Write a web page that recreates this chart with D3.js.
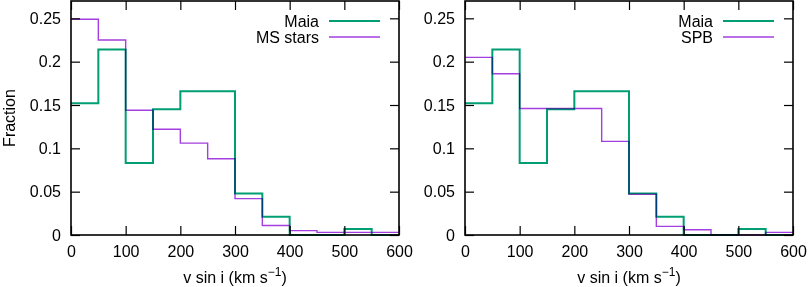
<!DOCTYPE html>
<html>
<head>
<meta charset="utf-8">
<script src="https://cdn.jsdelivr.net/npm/d3@7"></script>
<style>
  body { margin: 0; background: #fff; }
  svg { display: block; font-family: "Liberation Sans", Arial, sans-serif; }
</style>
</head>
<body>
<svg width="809" height="287"></svg>
<script>
// bin edges of the v sin i histograms (km/s)
var binStart = [0, 50, 100, 150, 200, 250, 300, 350, 400, 450, 500, 550];
var binEnd = 600;

var maiaFrac = [0.152, 0.214, 0.083, 0.145, 0.166, 0.166, 0.048, 0.021, 0, 0, 0.007, 0];
var msFrac   = [0.249, 0.225, 0.144, 0.122, 0.106, 0.088, 0.042, 0.011, 0.005, 0.003, 0.003, 0.003];
var spbFrac  = [0.205, 0.186, 0.146, 0.146, 0.146, 0.108, 0.047, 0.010, 0.006, 0, 0, 0.003];

var xTicks = [0, 100, 200, 300, 400, 500, 600];
var yTicks = [0, 0.05, 0.1, 0.15, 0.2, 0.25];
var yTickLabels = ['0', '0.05', '0.1', '0.15', '0.2', '0.25'];

var green = '#009e73';
var purple = '#a33ee0';

var svg = d3.select('svg');

function drawPanel(left, right, otherName, otherFrac, showYLabel) {
    var top = 1, bottom = 235;
    var xScale = d3.scaleLinear().domain([0, 600]).range([left, right]);
    var yScale = d3.scaleLinear().domain([0, 0.27]).range([bottom, top]);

    var g = svg.append('g');

    // step lines
    function steps(vals) {
        var pts = binStart.map(function(b, i){ return [b, vals[i]]; });
        pts.push([binEnd, vals[vals.length - 1]]);
        return pts;
    }
    var line = d3.line()
        .x(function(d){ return xScale(d[0]); })
        .y(function(d){ return yScale(d[1]); })
        .curve(d3.curveStepAfter);

    g.append('path')
        .attr('d', line(steps(maiaFrac)))
        .attr('fill', 'none')
        .attr('stroke', green)
        .attr('stroke-width', 2);

    g.append('path')
        .attr('d', line(steps(otherFrac)))
        .attr('fill', 'none')
        .attr('stroke', purple)
        .attr('stroke-width', 1.4)
        .style('mix-blend-mode', 'darken');

    // axes with inward ticks on all four sides
    var xAxis = d3.axisBottom(xScale).tickValues(xTicks).tickSize(-9).tickPadding(20);
    var yAxis = d3.axisLeft(yScale).tickValues(yTicks).tickSize(-9).tickPadding(20)
        .tickFormat(function(d, i){ return yTickLabels[i]; });

    var gx = g.append('g').attr('transform', 'translate(0,' + bottom + ')').call(xAxis);
    var gy = g.append('g').attr('transform', 'translate(' + left + ',0)').call(yAxis);
    g.append('g').attr('transform', 'translate(0,' + top + ')')
        .call(d3.axisTop(xScale).tickValues(xTicks).tickSize(-9).tickFormat(''));
    g.append('g').attr('transform', 'translate(' + right + ',0)')
        .call(d3.axisRight(yScale).tickValues(yTicks).tickSize(-9).tickFormat(''));

    g.selectAll('.domain').remove();
    g.selectAll('.tick line').attr('stroke', '#000').attr('stroke-width', 1.2);
    g.selectAll('.tick text').attr('font-size', 16).attr('fill', '#000')
        .attr('font-family', '"Liberation Sans", Arial, sans-serif');
    gx.selectAll('.tick text').attr('y', 11);
    gy.selectAll('.tick text').attr('x', -10);

    g.append('rect')
        .attr('x', left).attr('y', top)
        .attr('width', right - left).attr('height', bottom - top)
        .attr('fill', 'none').attr('stroke', '#000').attr('stroke-width', 1.6);

    // x label
    var xl = g.append('text')
        .attr('x', (left + right) / 2).attr('y', 283)
        .attr('text-anchor', 'middle').attr('font-size', 16);
    xl.append('tspan').text('v sin i (km s');
    xl.append('tspan').text('\u22121').attr('font-size', 12).attr('dy', -7);
    xl.append('tspan').text(')').attr('dy', 7);

    if (showYLabel) {
        g.append('text')
            .text('Fraction')
            .attr('text-anchor', 'middle').attr('font-size', 16)
            .attr('transform', 'translate(15,' + ((top + bottom) / 2) + ') rotate(-90)');
    }

    // legend
    var names = ['Maia', otherName];
    var cols = [green, purple];
    var widths = [2, 1.4];
    names.forEach(function(n, i){
        var y = 21 + i * 16;
        g.append('text').text(n)
            .attr('x', right - 80).attr('y', y).attr('dy', '0.35em')
            .attr('text-anchor', 'end').attr('font-size', 16);
        g.append('line')
            .attr('x1', right - 70).attr('x2', right - 19)
            .attr('y1', y).attr('y2', y)
            .attr('stroke', cols[i]).attr('stroke-width', widths[i]);
    });
}

drawPanel(71, 399, 'MS stars', msFrac, true);
drawPanel(465, 793, 'SPB', spbFrac, false);
</script>
</body>
</html>
